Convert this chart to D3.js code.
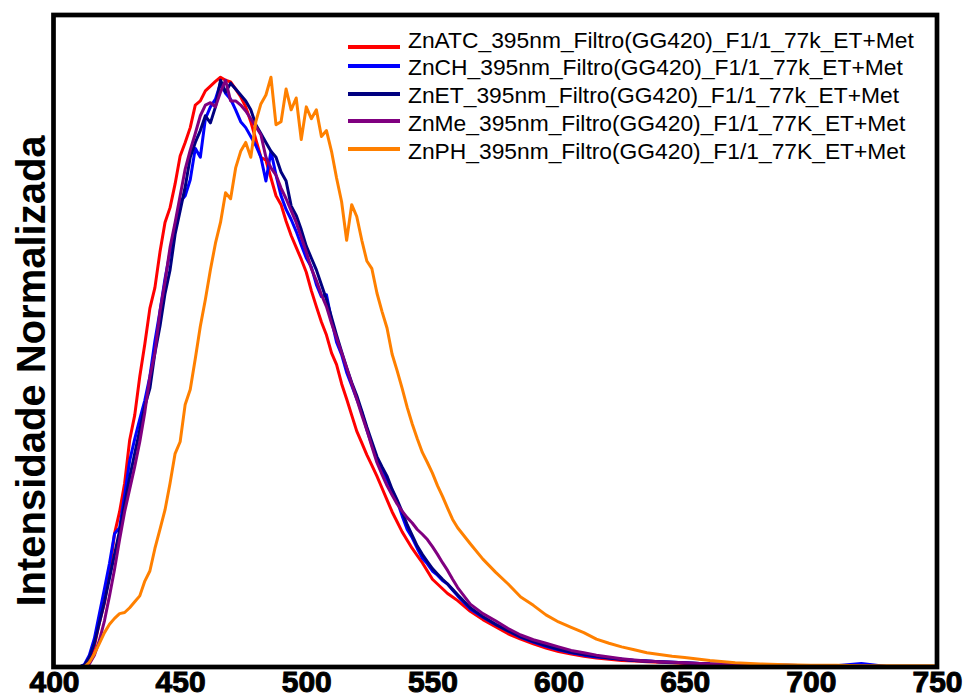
<!DOCTYPE html>
<html><head><meta charset="utf-8">
<script src="https://cdn.jsdelivr.net/npm/d3@7"></script>
<style>body{margin:0;background:#fff}svg{display:block}</style>
</head><body>
<svg id="c" width="965" height="697"></svg>
<script>
const wavelengths = [400,405,410,412,414,416,418,420,422,424,426,428,430,432,434,436,438,440,442,444,446,448,450,452,454,456,458,460,462,464,466,468,470,472,474,476,478,480,482,484,486,488,490,492,494,496,498,500,502,504,506,508,510,512,514,516,518,520,522,524,526,528,530,532,534,536,538,540,542,544,546,548,550,552,554,556,558,560,565,570,575,580,585,590,595,600,605,610,615,620,625,630,635,640,645,650,660,670,680,690,700,710,720,730,740,750];

const znATC = [0,0,0,0.002,0.012,0.035,0.075,0.108,0.16,0.225,0.262,0.31,0.383,0.425,0.49,0.545,0.605,0.64,0.7,0.75,0.775,0.815,0.862,0.885,0.91,0.948,0.955,0.972,0.98,0.988,0.995,0.99,0.987,0.975,0.962,0.945,0.92,0.89,0.86,0.855,0.825,0.795,0.78,0.752,0.728,0.708,0.688,0.666,0.635,0.608,0.582,0.56,0.53,0.51,0.478,0.452,0.425,0.398,0.378,0.358,0.34,0.322,0.302,0.282,0.262,0.245,0.228,0.214,0.2,0.188,0.176,0.162,0.148,0.14,0.132,0.124,0.118,0.112,0.094,0.08,0.068,0.056,0.047,0.039,0.032,0.026,0.022,0.018,0.015,0.013,0.011,0.01,0.009,0.008,0.007,0.006,0.005,0.004,0.003,0.002,0.002,0.001,0.001,0.001,0,0];

const znCH = [0,0,0,0.004,0.02,0.048,0.09,0.132,0.175,0.225,0.235,0.29,0.348,0.385,0.418,0.45,0.49,0.55,0.6,0.655,0.7,0.745,0.785,0.795,0.822,0.875,0.86,0.925,0.945,0.958,0.985,0.968,0.958,0.94,0.92,0.91,0.895,0.88,0.86,0.82,0.87,0.83,0.795,0.772,0.755,0.735,0.712,0.69,0.675,0.645,0.625,0.628,0.585,0.548,0.527,0.497,0.475,0.452,0.43,0.4,0.375,0.35,0.335,0.316,0.298,0.28,0.255,0.232,0.218,0.2,0.184,0.174,0.162,0.155,0.146,0.14,0.13,0.12,0.098,0.084,0.072,0.061,0.05,0.042,0.035,0.029,0.024,0.02,0.017,0.015,0.013,0.011,0.01,0.009,0.008,0.007,0.005,0.004,0.003,0.003,0.002,0.002,0.006,0.001,0.001,0];

const znET = [0,0,0,0.003,0.016,0.04,0.075,0.11,0.15,0.19,0.23,0.275,0.32,0.36,0.4,0.44,0.47,0.53,0.575,0.63,0.67,0.73,0.77,0.81,0.86,0.885,0.905,0.93,0.918,0.945,0.99,0.97,0.985,0.975,0.965,0.955,0.94,0.915,0.9,0.885,0.87,0.86,0.835,0.82,0.778,0.762,0.738,0.71,0.69,0.67,0.645,0.62,0.59,0.56,0.532,0.505,0.48,0.458,0.432,0.405,0.38,0.355,0.338,0.322,0.3,0.282,0.262,0.24,0.222,0.204,0.19,0.178,0.166,0.157,0.148,0.14,0.131,0.122,0.1,0.085,0.072,0.061,0.051,0.043,0.036,0.03,0.025,0.021,0.018,0.015,0.013,0.011,0.01,0.009,0.008,0.007,0.005,0.004,0.003,0.003,0.002,0.002,0.001,0.001,0.001,0];

const znMe = [0,0,0,0,0.005,0.02,0.045,0.078,0.12,0.165,0.215,0.262,0.3,0.338,0.38,0.43,0.49,0.53,0.6,0.65,0.708,0.75,0.795,0.84,0.872,0.9,0.93,0.948,0.952,0.945,0.97,0.99,0.955,0.955,0.948,0.938,0.925,0.912,0.898,0.86,0.842,0.83,0.808,0.79,0.77,0.75,0.725,0.7,0.672,0.652,0.628,0.608,0.58,0.555,0.53,0.505,0.478,0.452,0.425,0.4,0.372,0.345,0.325,0.306,0.29,0.275,0.263,0.252,0.243,0.232,0.224,0.215,0.203,0.19,0.176,0.163,0.148,0.134,0.106,0.09,0.078,0.065,0.054,0.046,0.04,0.034,0.028,0.024,0.02,0.017,0.014,0.012,0.01,0.009,0.008,0.007,0.005,0.004,0.003,0.002,0.002,0.001,0.001,0.001,0,0];

const znPH = [0,0,0,0,0.008,0.022,0.04,0.058,0.072,0.082,0.09,0.092,0.1,0.11,0.12,0.145,0.162,0.2,0.232,0.265,0.31,0.36,0.38,0.443,0.468,0.52,0.575,0.62,0.67,0.715,0.75,0.8,0.79,0.842,0.87,0.885,0.86,0.92,0.95,0.965,0.995,0.915,0.92,0.975,0.94,0.96,0.89,0.945,0.925,0.94,0.895,0.905,0.87,0.825,0.785,0.72,0.78,0.76,0.72,0.685,0.672,0.631,0.6,0.572,0.528,0.5,0.47,0.438,0.41,0.385,0.362,0.345,0.327,0.306,0.288,0.268,0.249,0.235,0.208,0.182,0.16,0.14,0.118,0.104,0.088,0.076,0.067,0.058,0.047,0.04,0.034,0.029,0.024,0.021,0.018,0.016,0.011,0.007,0.005,0.004,0.003,0.003,0.002,0.002,0.002,0.002];

const seriesNames = [
  "ZnATC_395nm_Filtro(GG420)_F1/1_77k_ET+Met",
  "ZnCH_395nm_Filtro(GG420)_F1/1_77k_ET+Met",
  "ZnET_395nm_Filtro(GG420)_F1/1_77k_ET+Met",
  "ZnMe_395nm_Filtro(GG420)_F1/1_77K_ET+Met",
  "ZnPH_395nm_Filtro(GG420)_F1/1_77K_ET+Met"
];
const seriesColors = ["#ff0000","#0000ff","#000080","#800080","#ff8000"];
const seriesValues = [znATC, znCH, znET, znMe, znPH];
const xTicks = [400,450,500,550,600,650,700,750];
const yLabel = "Intensidade Normalizada";

const svg = d3.select("#c");
const L = 54, R = 937, T = 15, B = 667;
const x = d3.scaleLinear().domain([400,750]).range([L,R]);
const y = d3.scaleLinear().domain([0,1.1]).range([B,T]);

svg.append("defs").append("clipPath").attr("id","clip")
  .append("rect").attr("x",L).attr("y",T).attr("width",R-L).attr("height",B-T);

const line = d3.line().x(d=>x(d[0])).y(d=>y(d[1]));
const g = svg.append("g").attr("clip-path","url(#clip)");
seriesValues.forEach((vals,i)=>{
  g.append("path")
    .datum(wavelengths.map((w,j)=>[w,vals[j]]))
    .attr("d",line).attr("fill","none")
    .attr("stroke",seriesColors[i]).attr("stroke-width",3)
    .attr("stroke-linejoin","round");
});

// frame
svg.append("rect").attr("x",L-0.5).attr("y",T).attr("width",R-L+0.5).attr("height",B-T)
  .attr("fill","none").attr("stroke","#000").attr("stroke-width",4.7);

// x axis
const ax = svg.append("g").attr("transform",`translate(0,${B})`)
  .call(d3.axisBottom(x).tickValues(xTicks).tickSize(0).tickFormat(d3.format("d")));
ax.select(".domain").remove();
ax.selectAll("text").attr("y",25).attr("dy",0)
  .attr("font-family","'Liberation Sans Narrow','Arial Narrow','Liberation Sans',sans-serif")
  .attr("font-weight","bold").attr("font-size",30).attr("fill","#000")
  .attr("stroke","#000").attr("stroke-width",1);

// y label
svg.append("text").attr("transform","translate(45,371) rotate(-90)")
  .attr("text-anchor","middle")
  .attr("font-family","'Liberation Sans',Arial,sans-serif")
  .attr("font-weight","bold").attr("font-size",40).attr("fill","#000")
  .text(yLabel);

// legend
const legTextY = [48,75,103,131,159];
const legLineY = [47,66,94,121,149];
const lg = svg.append("g");
seriesNames.forEach((n,i)=>{
  lg.append("line").attr("x1",348).attr("x2",400).attr("y1",legLineY[i]).attr("y2",legLineY[i])
    .attr("stroke",seriesColors[i]).attr("stroke-width",4);
  lg.append("text").attr("x",408).attr("y",legTextY[i])
    .attr("font-family","'Liberation Sans',Arial,sans-serif").attr("font-size",22.8)
    .attr("fill","#000").text(n);
});
</script>
</body></html>
